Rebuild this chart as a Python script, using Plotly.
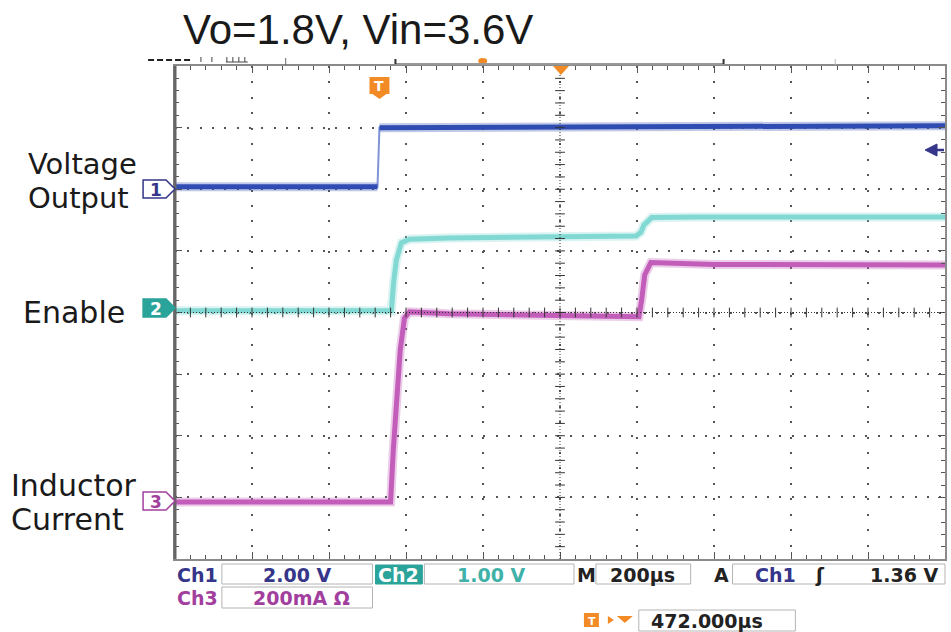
import plotly.graph_objects as go

# ---------------- data (screen divisions, time in µs) ----------------
t_ch1 = [0, 526, 531, 900, 1400, 2000]
v_ch1 = [6.04, 6.04, 7.00, 7.01, 7.02, 7.03]

t_ch2 = [0, 562, 568, 575, 588, 609, 712, 1197, 1210, 1218, 1238, 1360, 2000]
v_ch2 = [4.03, 4.03, 4.50, 4.85, 5.13, 5.19, 5.21, 5.24, 5.30, 5.42, 5.54, 5.55, 5.55]

t_ch3 = [0, 560, 567, 575, 585, 596, 609, 712, 1205, 1212, 1220, 1236, 1400, 2000]
v_ch3 = [0.925, 0.925, 1.77, 2.58, 3.39, 3.91, 4.01, 3.98, 3.93, 4.20, 4.61, 4.81, 4.78, 4.77]

title_text = "Vo=1.8V, Vin=3.6V"
left_labels = ["Voltage", "Output", "Enable", "Inductor", "Current"]
ch_names = ["Ch1", "Ch2", "Ch3"]
ch_scales = ["2.00 V", "1.00 V", "200mA Ω"]
timebase = "200µs"
trig_src, trig_level = "Ch1", "1.36 V"
trig_pos = "472.000µs"

# ---------------- styling ----------------
W, H = 951, 632
L, R, T, B = 175, 947, 66, 559
BLUE, CYAN, MAG = "#2f4cb3", "#82d9d3", "#c25dba"
BLUE_T, TEAL_T, MAG_T = "#35358a", "#3fb1a8", "#a23f9e"
TEAL_BG = "#2aa39a"
ORANGE = "#f28a26"


def px(x):
    return (x - L) / (R - L)


def py(y):
    return (B - y) / (B - T)


fig = go.Figure()
# faint noise halo under each trace
for tt, vv, col in [(t_ch2, v_ch2, CYAN), (t_ch3, v_ch3, MAG), (t_ch1[:2], v_ch1[:2], BLUE),
                    (t_ch1[2:], v_ch1[2:], BLUE)]:
    fig.add_trace(go.Scatter(x=tt, y=vv, mode="lines", opacity=0.3, line=dict(color=col, width=9)))
fig.add_trace(go.Scatter(x=t_ch2, y=v_ch2, mode="lines", line=dict(color=CYAN, width=5)))
fig.add_trace(go.Scatter(x=t_ch3, y=v_ch3, mode="lines", line=dict(color=MAG, width=5)))
# Ch1: thin rising edge, thick (noisy) flat levels
fig.add_trace(go.Scatter(x=t_ch1, y=v_ch1, mode="lines", line=dict(color="#7f93d6", width=2)))
fig.add_trace(go.Scatter(x=t_ch1[:2], y=v_ch1[:2], mode="lines", line=dict(color=BLUE, width=5)))
fig.add_trace(go.Scatter(x=t_ch1[2:], y=v_ch1[2:], mode="lines", line=dict(color=BLUE, width=5)))

# centre crosshair tick marks
fig.add_trace(go.Scatter(x=[1000] * 39, y=[k * 0.2 for k in range(1, 40)], mode="markers",
                         marker=dict(symbol="line-ew", size=7, line=dict(width=1, color="#333"))))
fig.add_trace(go.Scatter(x=[k * 40 for k in range(1, 50)], y=[4] * 49, mode="markers",
                         marker=dict(symbol="line-ns", size=7, line=dict(width=1, color="#333"))))

shapes = []
# centre dotted lines
shapes.append(dict(type="line", xref="x", yref="y", x0=1000, x1=1000, y0=0, y1=8,
                   line=dict(color="#333", width=1, dash="1px,2px")))
shapes.append(dict(type="line", xref="x", yref="y", x0=0, x1=2000, y0=4, y1=4,
                   line=dict(color="#333", width=1, dash="1px,2px")))
# thick left border
shapes.append(dict(type="line", xref="paper", yref="paper", x0=px(175), x1=px(175), y0=0, y1=1,
                   line=dict(color="#666", width=3)))


def path(pts):
    s = "M " + " L ".join(f"{px(a):.5f},{py(b):.5f}" for a, b in pts) + " Z"
    return s


def marker_shape(yc, fill, line):
    pts = [(143, yc - 9), (166, yc - 9), (175, yc), (166, yc + 9), (143, yc + 9)]
    return dict(type="path", xref="paper", yref="paper", path=path(pts), fillcolor=fill,
                line=dict(color=line, width=1.5), layer="above")


shapes.append(marker_shape(189, "white", BLUE_T))
shapes.append(marker_shape(308, TEAL_BG, TEAL_BG))
shapes.append(marker_shape(501, "white", MAG_T))

# trigger T marker
shapes.append(dict(type="rect", xref="paper", yref="paper", x0=px(370), x1=px(390), y0=py(77), y1=py(94),
                   fillcolor=ORANGE, line=dict(width=0)))
shapes.append(dict(type="path", xref="paper", yref="paper", path=path([(373, 94), (387, 94), (380, 99)]),
                   fillcolor=ORANGE, line=dict(width=0)))
# top centre triangle
shapes.append(dict(type="path", xref="paper", yref="paper", path=path([(554, 66), (570, 66), (562, 75)]),
                   fillcolor=ORANGE, line=dict(width=0)))
shapes.append(dict(type="circle", xref="paper", yref="paper", x0=px(479), x1=px(488), y0=py(58), y1=py(64),
                   fillcolor=ORANGE, line=dict(width=0)))
# top artifacts
shapes.append(dict(type="line", xref="paper", yref="paper", x0=px(148), x1=px(193), y0=py(60), y1=py(60),
                   line=dict(color="#222", width=2, dash="6px,3px")))
for xx in [201, 212, 227, 233, 239, 245]:
    shapes.append(dict(type="line", xref="paper", yref="paper", x0=px(xx), x1=px(xx), y0=py(57), y1=py(62),
                       line=dict(color="#444", width=1)))
shapes.append(dict(type="line", xref="paper", yref="paper", x0=px(226), x1=px(248), y0=py(62), y1=py(62),
                   line=dict(color="#444", width=1)))
shapes.append(dict(type="line", xref="paper", yref="paper", x0=px(286), x1=px(286), y0=py(58), y1=py(65),
                   line=dict(color="#666", width=1)))
shapes.append(dict(type="line", xref="paper", yref="paper", x0=px(396), x1=px(725), y0=py(64), y1=py(64),
                   line=dict(color="#999", width=2)))
for xx in [396, 725]:
    shapes.append(dict(type="line", xref="paper", yref="paper", x0=px(xx), x1=px(xx), y0=py(59), y1=py(64),
                       line=dict(color="#333", width=2)))
shapes.append(dict(type="line", xref="paper", yref="paper", x0=px(837), x1=px(837), y0=py(59), y1=py(65),
                   line=dict(color="#bbb", width=1)))
# trigger level arrow (right)
shapes.append(dict(type="path", xref="paper", yref="paper", path=path([(927, 150), (939, 144), (939, 156)]),
                   fillcolor=BLUE_T, line=dict(color=BLUE_T, width=1)))
shapes.append(dict(type="line", xref="paper", yref="paper", x0=px(936), x1=px(946), y0=py(150), y1=py(150),
                   line=dict(color=BLUE_T, width=2.5)))

# status bar boxes
def box(x0, x1, y0, y1, fill="white", line="#b4b4b4"):
    return dict(type="rect", xref="paper", yref="paper", x0=px(x0), x1=px(x1), y0=py(y1), y1=py(y0),
                fillcolor=fill, line=dict(color=line, width=1))


shapes += [box(222, 373, 564, 584), box(376, 423, 565, 584, TEAL_BG, TEAL_BG), box(425, 575, 564, 584),
           box(597, 692, 564, 584), box(734, 947, 564, 584), box(222, 373, 587, 608),
           box(640, 797, 610, 631)]
shapes.append(dict(type="rect", xref="paper", yref="paper", x0=px(585), x1=px(600), y0=py(627), y1=py(613),
                   fillcolor=ORANGE, line=dict(width=0)))
shapes.append(dict(type="path", xref="paper", yref="paper", path=path([(609, 616), (615, 620), (609, 624)]),
                   fillcolor=ORANGE, line=dict(width=0)))
shapes.append(dict(type="path", xref="paper", yref="paper", path=path([(618, 616), (634, 616), (626, 623)]),
                   fillcolor=ORANGE, line=dict(width=0)))

ann = []


def text(x, y, s, size, color, family="Liberation Sans", xanchor="center", bold=False):
    ann.append(dict(xref="paper", yref="paper", x=px(x), y=py(y), text=(f"<b>{s}</b>" if bold else s),
                    showarrow=False, xanchor=xanchor, yanchor="middle",
                    font=dict(family=family, size=size, color=color)))


DV = "DejaVu Sans"
text(358, 29, title_text, 42, "#1a1a1a")
text(26, 164, left_labels[0], 29, "#1a1a1a", DV, xanchor="left")
text(26, 198, left_labels[1], 29, "#1a1a1a", DV, xanchor="left")
text(21, 312, left_labels[2], 30, "#1a1a1a", DV, xanchor="left")
text(9, 485, left_labels[3], 30, "#1a1a1a", DV, xanchor="left")
text(9, 519, left_labels[4], 30, "#1a1a1a", DV, xanchor="left")

text(156, 190, "1", 17, BLUE_T, DV, bold=True)
text(156, 309, "2", 17, "white", DV, bold=True)
text(156, 502, "3", 17, MAG_T, DV, bold=True)
text(380, 86, "T", 14, "white", DV, bold=True)
text(593, 621, "T", 11, "white", DV, bold=True)

text(175, 575, ch_names[0], 19, BLUE_T, DV, xanchor="left", bold=True)
text(297, 575, ch_scales[0], 19, BLUE_T, DV, bold=True)
text(399, 575, ch_names[1], 19, "white", DV, bold=True)
text(492, 575, ch_scales[1], 19, TEAL_T, DV, bold=True)
text(588, 575, "M", 19, "#222", DV, bold=True)
text(644, 575, timebase, 19, "#222", DV, bold=True)
text(723, 575, "A", 19, "#222", DV, bold=True)
text(777, 575, trig_src, 19, BLUE_T, DV, bold=True)
text(822, 575, "ʃ", 19, "#222", DV, bold=True)
text(906, 575, trig_level, 19, "#222", DV, bold=True)
text(175, 598, ch_names[2], 19, MAG_T, DV, xanchor="left", bold=True)
text(302, 598, ch_scales[2], 19, MAG_T, DV, bold=True)
text(708, 621, trig_pos, 19, "#222", DV, bold=True)

axis_common = dict(showticklabels=False, ticks="inside", ticklen=7, tickwidth=1, tickcolor="#555",
                   showline=True, linecolor="#8a8a8a", linewidth=2, mirror="allticks",
                   zeroline=False, fixedrange=True, showgrid=True, gridcolor="#555", gridwidth=1.5)

fig.update_layout(
    width=W, height=H, autosize=False,
    margin=dict(l=L, r=W - R, t=T, b=H - B, pad=0),
    paper_bgcolor="white", plot_bgcolor="white",
    showlegend=False, hovermode=False,
    xaxis=dict(range=[0, 2000], dtick=200, tick0=0, griddash="2px,13.44px",
               minor=dict(dtick=40, ticks="inside", ticklen=4, tickcolor="#555", showgrid=False),
               **axis_common),
    yaxis=dict(range=[0, 8], dtick=1, tick0=0, griddash="2px,10.33px",
               minor=dict(dtick=0.2, ticks="inside", ticklen=4, tickcolor="#555", showgrid=False),
               **axis_common),
    shapes=shapes, annotations=ann,
)

fig.write_html("out.html", config={"displayModeBar": False},
               post_script="document.body.style.margin='0';document.body.style.overflow='hidden';")
